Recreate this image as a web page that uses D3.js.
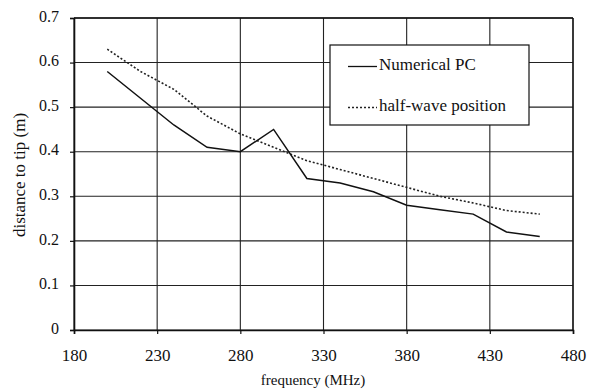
<!DOCTYPE html>
<html><head><meta charset="utf-8">
<script src="https://cdn.jsdelivr.net/npm/d3@7"></script>
<style>body{margin:0;background:#fff}svg{display:block}text{font-family:"Liberation Serif","Times New Roman",serif;fill:#111}</style>
</head><body><svg id="c" width="595" height="391"></svg>
<script>
const freq = [200,220,240,260,280,300,320,340,360,380,400,420,440,460];
const numericalPC = [0.58,0.52,0.46,0.41,0.40,0.45,0.34,0.33,0.31,0.28,0.27,0.26,0.22,0.21];
const halfWave = [0.63,0.58,0.54,0.48,0.44,0.41,0.38,0.36,0.34,0.32,0.30,0.285,0.268,0.26];
const xTicks = [180,230,280,330,380,430,480];
const yTicks = [0,0.1,0.2,0.3,0.4,0.5,0.6,0.7];
const seriesNames = ["Numerical PC","half-wave position"];

const svg = d3.select("#c");
const L=74,R=573,T=18,B=330;
const x = d3.scaleLinear().domain([180,480]).range([L,R]);
const y = d3.scaleLinear().domain([0,0.7]).range([B,T]);

// gridlines
svg.append("g").selectAll("line").data(yTicks).join("line")
  .attr("x1",L).attr("x2",R).attr("y1",d=>y(d)).attr("y2",d=>y(d))
  .attr("stroke","#222").attr("stroke-width",1.1);
svg.append("g").selectAll("line").data(xTicks).join("line")
  .attr("y1",T).attr("y2",B).attr("x1",d=>x(d)).attr("x2",d=>x(d))
  .attr("stroke","#222").attr("stroke-width",1.1);

// axes
const xa = svg.append("g").attr("transform",`translate(0,${B})`)
  .call(d3.axisBottom(x).tickValues(xTicks).tickSize(4).tickPadding(15).tickFormat(d3.format("d")));
const ya = svg.append("g").attr("transform",`translate(${L},0)`)
  .call(d3.axisLeft(y).tickValues(yTicks).tickSize(4).tickPadding(11).tickFormat(d=>d===0?"0":d3.format(".1f")(d)));
[xa,ya].forEach(a=>{a.attr("font-family",null);
  a.select(".domain").attr("stroke","#111").attr("stroke-width",1.6);
  a.selectAll(".tick line").attr("stroke","#111").attr("stroke-width",1.2);});
xa.selectAll("text").style("font-size","17px").style("font-family","'Liberation Serif', serif").attr("fill","#111");
ya.selectAll("text").style("font-size","16px").style("font-family","'Liberation Serif', serif").attr("fill","#111").attr("dy","0.2em");
// top & right border
svg.append("line").attr("x1",L).attr("x2",R).attr("y1",T).attr("y2",T).attr("stroke","#111").attr("stroke-width",1.3);
svg.append("line").attr("x1",R).attr("x2",R).attr("y1",T).attr("y2",B).attr("stroke","#111").attr("stroke-width",1.3);

const line = d3.line().x((d,i)=>x(freq[i])).y(d=>y(d));
svg.append("path").datum(halfWave).attr("d",line).attr("fill","none")
  .attr("stroke","#222").attr("stroke-width",1.6).attr("stroke-dasharray","2,2");
svg.append("path").datum(numericalPC).attr("d",line).attr("fill","none")
  .attr("stroke","#111").attr("stroke-width",1.5);

// legend
const lg = svg.append("g");
lg.append("rect").attr("x",330).attr("y",45).attr("width",199).attr("height",80)
  .attr("fill","#fff").attr("stroke","#111").attr("stroke-width",1.2);
lg.append("line").attr("x1",348).attr("x2",377).attr("y1",66.5).attr("y2",66.5).attr("stroke","#111").attr("stroke-width",1.3);
lg.append("line").attr("x1",348).attr("x2",377).attr("y1",107.5).attr("y2",107.5).attr("stroke","#222").attr("stroke-width",1.5).attr("stroke-dasharray","2,2");
lg.append("text").attr("x",379).attr("y",70).style("font-size","17px").text(seriesNames[0]);
lg.append("text").attr("x",379).attr("y",111).style("font-size","17px").text(seriesNames[1]);

// axis titles
svg.append("text").attr("x",313).attr("y",385).attr("text-anchor","middle").style("font-size","15px").text("frequency (MHz)");
svg.append("text").attr("transform","translate(25,175) rotate(-90)").attr("text-anchor","middle").style("font-size","17px").text("distance to tip (m)");
</script></body></html>
